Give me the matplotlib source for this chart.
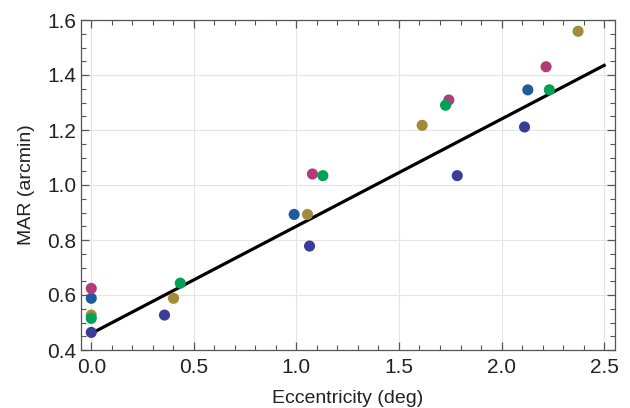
import matplotlib.pyplot as plt
import numpy as np

plt.rcParams['font.family'] = ['Liberation Sans', 'DejaVu Sans']

# 数据：每组受试者的偏心度 (deg) 和 MAR (arcmin)
ecc_purple = [0.0, 0.357, 1.064, 1.784, 2.112]
mar_purple = [0.464, 0.527, 0.778, 1.034, 1.211]

ecc_blue = [0.0, 0.989, 2.128]
mar_blue = [0.588, 0.893, 1.346]

ecc_gold = [0.0, 0.401, 1.054, 1.613, 2.373]
mar_gold = [0.527, 0.588, 0.893, 1.217, 1.559]

ecc_pink = [0.0, 1.078, 1.743, 2.217]
mar_pink = [0.624, 1.040, 1.309, 1.430]

ecc_green = [0.0, 0.434, 1.129, 1.727, 2.233]
mar_green = [0.515, 0.643, 1.034, 1.290, 1.346]

# 拟合直线 (截距, 斜率)
fit_intercept = 0.46
fit_slope = 0.39
fit_x = [0.0, 2.5]

groups = [
    (ecc_purple, mar_purple, '#3b3b98'),
    (ecc_blue, mar_blue, '#1f5b9e'),
    (ecc_gold, mar_gold, '#a38b3a'),
    (ecc_pink, mar_pink, '#b33b78'),
    (ecc_green, mar_green, '#00a157'),
]

fig = plt.figure(figsize=(6.3, 4.08), dpi=100)
ax = fig.add_axes([81 / 630, 58 / 408, 534 / 630, 330 / 408])

fx = np.array(fit_x)
ax.plot(fx, fit_intercept + fit_slope * fx, color='black', linewidth=2.3, zorder=2)

for ecc, mar, color in groups:
    ax.scatter(ecc, mar, s=64, color=color, edgecolors='none', zorder=3)

ax.set_xlim(-0.05, 2.553)
ax.set_ylim(0.4, 1.6)
ax.set_xticks(np.arange(0, 2.51, 0.5))
ax.set_yticks(np.arange(0.4, 1.61, 0.2))
ax.set_xticks(np.arange(0, 2.51, 0.1), minor=True)
ax.set_yticks(np.arange(0.4, 1.61, 0.05), minor=True)
ax.xaxis.set_major_formatter(plt.FormatStrFormatter('%.1f'))
ax.yaxis.set_major_formatter(plt.FormatStrFormatter('%.1f'))

ax.grid(True, which='major', color='#e4e4e4', linewidth=0.8, zorder=0)
ax.set_axisbelow(True)

ax.tick_params(which='both', direction='in', top=True, right=True,
               color='#555555', labelsize=15, labelcolor='#222222')
ax.tick_params(which='major', length=6, width=0.9)
ax.tick_params(which='minor', length=3.5, width=0.8)
ax.tick_params(axis='x', which='major', pad=6)
for s in ax.spines.values():
    s.set_color('#555555')
    s.set_linewidth(0.9)

ax.set_xlabel('Eccentricity (deg)', fontsize=14, color='#222222', labelpad=9)
ax.set_ylabel('MAR (arcmin)', fontsize=14, color='#222222', labelpad=9)

plt.savefig('out.png', dpi=100)
